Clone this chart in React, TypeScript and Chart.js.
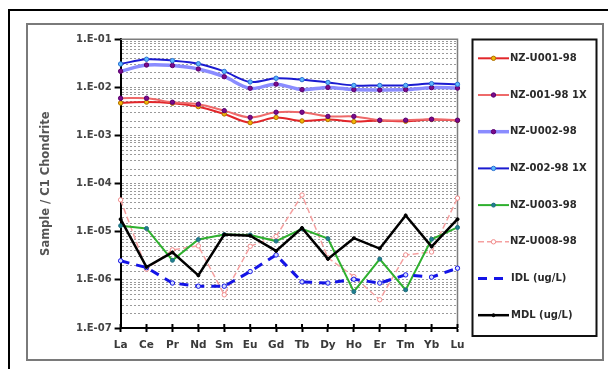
import { useEffect, useRef } from "react";
import { Chart, registerables } from "chart.js";

Chart.register(...registerables);

const elements = ["La", "Ce", "Pr", "Nd", "Sm", "Eu", "Gd", "Tb", "Dy", "Ho", "Er", "Tm", "Yb", "Lu"];

const nzU001 = [4.75e-3, 4.95e-3, 4.7e-3, 3.98e-3, 2.81e-3, 1.85e-3, 2.38e-3, 2.01e-3, 2.15e-3, 1.95e-3, 2.05e-3, 1.98e-3, 2.15e-3, 2.05e-3];
const nz001x1 = [5.96e-3, 5.96e-3, 4.92e-3, 4.47e-3, 3.29e-3, 2.38e-3, 3.05e-3, 3.05e-3, 2.5e-3, 2.5e-3, 2.08e-3, 2.08e-3, 2.18e-3, 2.08e-3];
const nzU002 = [2.17e-2, 2.92e-2, 2.85e-2, 2.42e-2, 1.67e-2, 9.6e-3, 1.17e-2, 9.0e-3, 1.0e-2, 9.0e-3, 8.85e-3, 9.0e-3, 9.9e-3, 9.7e-3];
const nz002x1 = [3.07e-2, 3.85e-2, 3.6e-2, 3.1e-2, 2.15e-2, 1.3e-2, 1.55e-2, 1.45e-2, 1.27e-2, 1.1e-2, 1.1e-2, 1.1e-2, 1.2e-2, 1.16e-2];
const nzU003 = [1.34e-5, 1.17e-5, 2.55e-6, 6.9e-6, 8.75e-6, 8.6e-6, 6.4e-6, 1.15e-5, 7.2e-6, 5.7e-7, 2.71e-6, 6.2e-7, 7.0e-6, 1.23e-5];
const nzU008 = [4.6e-5, 1.67e-6, 4.2e-6, 5.1e-6, 4.9e-7, 5.0e-6, 8.0e-6, 5.8e-5, 2.88e-6, 1.17e-6, 3.86e-7, 3.3e-6, 3.8e-6, 5.0e-5];
const idl = [2.49e-6, 1.8e-6, 8.6e-7, 7.4e-7, 7.4e-7, 1.49e-6, 3.3e-6, 9.1e-7, 8.6e-7, 1.03e-6, 8.6e-7, 1.27e-6, 1.14e-6, 1.75e-6];
const mdl = [1.83e-5, 1.85e-6, 3.73e-6, 1.24e-6, 8.75e-6, 8.3e-6, 4.0e-6, 1.2e-5, 2.73e-6, 7.36e-6, 4.48e-6, 2.19e-5, 4.93e-6, 1.83e-5];

const seriesNames = [
  "NZ-U001-98",
  "NZ-001-98 1X",
  "NZ-U002-98",
  "NZ-002-98 1X",
  "NZ-U003-98",
  "NZ-U008-98",
  "IDL (ug/L)",
  "MDL (ug/L)",
];

const yTitle = "Sample / C1 Chondrite";

const FONT = "DejaVu Sans";

const isDecade = (v: number) => {
  const l = Math.log10(v);
  return Math.abs(l - Math.round(l)) < 1e-6;
};
const fmtDecade = (v: number) => {
  const e = Math.round(Math.log10(v));
  const a = Math.abs(e);
  return "1.E" + (e < 0 ? "-" : "+") + (a < 10 ? "0" + a : String(a));
};

const decorPlugin = {
  id: "decor",
  beforeDatasetsDraw(chart: any) {
    const { ctx, chartArea: a } = chart;
    ctx.save();
    ctx.strokeStyle = "#7d7d7d";
    ctx.lineWidth = 1.5;
    ctx.beginPath();
    ctx.moveTo(a.left, a.top);
    ctx.lineTo(a.right, a.top);
    ctx.lineTo(a.right, a.bottom);
    ctx.stroke();
    const xs = chart.scales.x;
    ctx.strokeStyle = "#000";
    ctx.lineWidth = 2;
    for (let i = 0; i < chart.data.labels.length; i++) {
      const x = xs.getPixelForValue(i);
      ctx.beginPath();
      ctx.moveTo(x, a.bottom - 4);
      ctx.lineTo(x, a.bottom);
      ctx.stroke();
    }
    ctx.restore();
  },
  afterDraw(chart: any) {
    const { ctx } = chart;
    ctx.save();
    const bx = 472.5, by = 39.5, bw = 124, bh = 296.5;
    ctx.strokeStyle = "#111";
    ctx.lineWidth = 2;
    ctx.strokeRect(bx, by, bw, bh);
    const y0 = 58.3, step = 36.7;
    chart.data.datasets.forEach((ds: any, i: number) => {
      const y = y0 + i * step;
      ctx.save();
      ctx.strokeStyle = ds.borderColor;
      ctx.lineWidth = ds.borderWidth;
      ctx.setLineDash(ds.borderDash || []);
      ctx.beginPath();
      ctx.moveTo(478, y);
      ctx.lineTo(509, y);
      ctx.stroke();
      ctx.setLineDash([]);
      if (ds.pointRadius > 0 && ds.legendMarker !== false) {
        ctx.beginPath();
        ctx.arc(493.5, y, ds.pointRadius, 0, Math.PI * 2);
        ctx.fillStyle = ds.pointBackgroundColor;
        ctx.fill();
        ctx.lineWidth = ds.pointBorderWidth;
        ctx.strokeStyle = ds.pointBorderColor;
        ctx.stroke();
      }
      ctx.restore();
      ctx.fillStyle = "#2a2a2a";
      ctx.font = `bold 10px "${FONT}"`;
      ctx.textBaseline = "middle";
      ctx.textAlign = "left";
      ctx.fillText(ds.label, i >= 6 ? 511 : 510, y);
    });
    ctx.restore();
  },
};

export default function App() {
  const canvasRef = useRef<HTMLCanvasElement | null>(null);

  useEffect(() => {
    if (!canvasRef.current) return;
    const mk = (
      label: string,
      data: number[],
      color: string,
      width: number,
      pFill: string,
      pBorder: string,
      radius: number,
      extra: any = {}
    ) => ({
      label,
      data,
      borderColor: color,
      backgroundColor: color,
      borderWidth: width,
      pointBackgroundColor: pFill,
      pointBorderColor: pBorder,
      pointBorderWidth: 1,
      pointRadius: radius,
      pointHoverRadius: radius,
      fill: false,
      ...extra,
    });

    const chart = new Chart(canvasRef.current, {
      type: "line",
      data: {
        labels: elements,
        datasets: [
          mk(seriesNames[0], nzU001, "#e2262a", 2, "#f2b705", "#b07000", 2.2, { tension: 0.35, order: 4 }),
          mk(seriesNames[1], nz001x1, "#ee6a6a", 2, "#7a0a8a", "#5a0070", 2.2, { tension: 0.35, order: 3 }),
          mk(seriesNames[2], nzU002, "#8a8cff", 3.5, "#7a0a8a", "#5a0070", 2.2, { tension: 0.35, order: 6 }),
          mk(seriesNames[3], nz002x1, "#1a1ad0", 2, "#5cb8ff", "#2a70d0", 2.2, { tension: 0.35, order: 5 }),
          mk(seriesNames[4], nzU003, "#2fb02f", 2, "#1f7f8f", "#1f6f7f", 2, { order: 2 }),
          mk(seriesNames[5], nzU008, "#f5a0a0", 1.5, "#ffffff", "#f08a8a", 2.2, { borderDash: [6, 3], order: 7 }),
          mk(seriesNames[6], idl, "#1414e6", 3, "#d8e0ff", "#1414e6", 2.2, { borderDash: [9, 7], order: 1, legendMarker: false }),
          mk(seriesNames[7], mdl, "#000000", 2.5, "#000000", "#000000", 1.5, { order: 0 }),
        ],
      },
      options: {
        responsive: false,
        animation: false,
        events: [],
        layout: { padding: { left: 0, top: 39.3, right: 150.5, bottom: 0 } },
        plugins: {
          legend: { display: false },
          tooltip: { enabled: false },
          title: { display: false },
        },
        scales: {
          x: {
            type: "category",
            offset: false,
            grid: {
              drawOnChartArea: false,
              drawTicks: true,
              tickLength: 4,
              tickColor: "#000",
              tickWidth: 2,
            },
            border: { display: true, color: "#000", width: 2 },
            ticks: {
              color: "#3a3a3a",
              font: { family: FONT, size: 10.5, weight: "bold" },
              padding: 7,
              maxRotation: 0,
              autoSkip: false,
            },
            afterFit: (s: any) => {
              s.height = 41;
            },
          },
          y: {
            type: "logarithmic",
            min: 1e-7,
            max: 1e-1,
            grid: {
              color: "#9a9a9a",
              lineWidth: 1,
              tickColor: (c: any) => (c.tick && isDecade(c.tick.value) ? "#000" : "rgba(0,0,0,0)"),
              tickLength: 6,
              tickWidth: 2,
            },
            border: { display: true, color: "#000", width: 2, dash: [2, 2] },
            ticks: {
              autoSkip: false,
              color: "#444",
              padding: 3,
              font: { family: FONT, size: 10, weight: "bold" },
              callback: (v: any) => (isDecade(Number(v)) ? fmtDecade(Number(v)) : ""),
            },
            title: {
              display: true,
              text: yTitle,
              color: "#555",
              font: { family: FONT, size: 11.5, weight: "bold" },
              padding: { top: 39, bottom: 0 },
            },
            afterFit: (s: any) => {
              s.width = 120.6;
            },
          },
        },
      } as any,
      plugins: [decorPlugin],
    });
    return () => chart.destroy();
  }, []);

  return (
    <div style={{ position: "fixed", left: 0, top: 0, width: 608, height: 369, overflow: "hidden", background: "#fff" }}>
      <div
        style={{
          position: "absolute",
          left: 8,
          top: 9,
          width: 640,
          height: 400,
          border: "2px solid #000",
          boxSizing: "border-box",
        }}
      />
      <div
        style={{
          position: "absolute",
          left: 25.5,
          top: 22.5,
          width: 578.5,
          height: 338.5,
          border: "2px solid #7a7a7a",
          boxSizing: "border-box",
        }}
      />
      <canvas ref={canvasRef} width={608} height={369} style={{ position: "absolute", left: 0, top: 0 }} />
    </div>
  );
}
